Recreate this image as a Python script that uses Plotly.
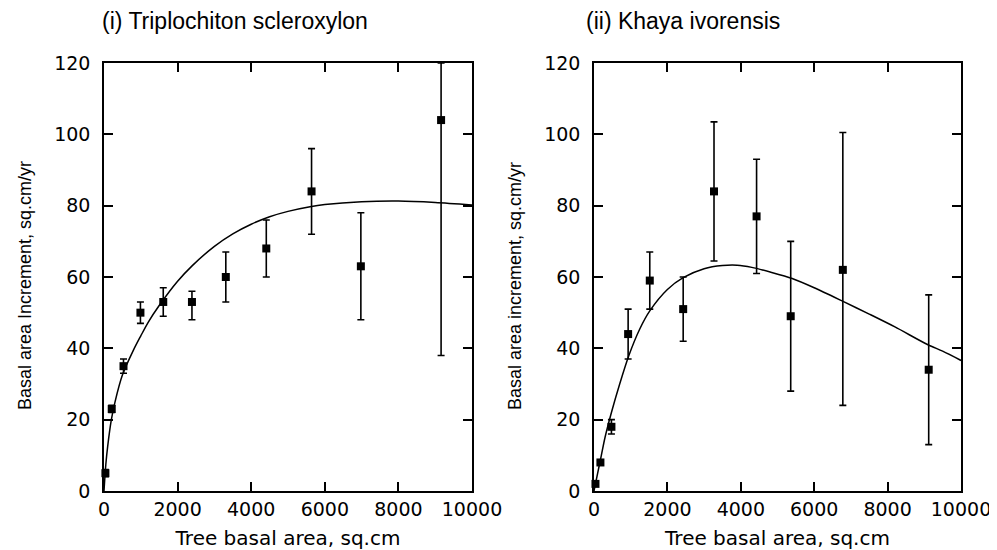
import plotly.graph_objects as go

# ---- Data: (i) Triplochiton scleroxylon ----
tri_x = [38, 210, 530, 990, 1610, 2390, 3310, 4410, 5640, 6980, 9160]
tri_y = [5, 23, 35, 50, 53, 53, 60, 68, 84, 63, 104]
tri_hi = [6, 24, 37, 53, 57, 56, 67, 76, 96, 78, 120]
tri_lo = [4, 22, 33, 47, 49, 48, 53, 60, 72, 48, 38]

tri_fit_x = [0, 50, 100, 200, 300, 500, 800, 1000, 1200, 1500, 2000, 2400, 3000,
             3500, 4000, 4500, 5000, 5600, 6000, 7000, 8000, 9000, 10000]
tri_fit_y = [0, 7.5, 12.5, 20, 25, 32.5, 39.5, 43.5, 47.3, 52, 58.8, 63.2, 68.6,
             72.1, 74.8, 76.9, 78.4, 79.7, 80.3, 81.1, 81.3, 80.9, 80.2]

# ---- Data: (ii) Khaya ivorensis ----
kha_x = [40, 175, 475, 930, 1520, 2430, 3270, 4430, 5360, 6780, 9120]
kha_y = [2, 8, 18, 44, 59, 51, 84, 77, 49, 62, 34]
kha_hi = [2.5, 8.5, 20, 51, 67, 60, 103.5, 93, 70, 100.5, 55]
kha_lo = [1.5, 7.5, 16, 37, 51, 42, 64.5, 61, 28, 24, 13]

kha_fit_x = [0, 100, 200, 300, 475, 700, 950, 1250, 1520, 2000, 2430, 3000, 3500,
             3900, 4300, 4800, 5400, 6000, 6800, 7500, 8200, 9100, 9500, 10000]
kha_fit_y = [0, 5, 10, 15, 22, 30, 38, 45.5, 50.5, 56.5, 59.8, 62.3, 63.2,
             63.3, 62.7, 61.4, 59.6, 57, 53.1, 49.6, 46, 41, 39.2, 36.6]

titles = ["(i) Triplochiton scleroxylon", "(ii) Khaya ivorensis"]
x_title = "Tree basal area, sq.cm"
y_titles = ["Basal area Increment, sq.cm/yr", "Basal area increment, sq.cm/yr"]
x_ticks = [0, 2000, 4000, 6000, 8000, 10000]
y_ticks = [0, 20, 40, 60, 80, 100, 120]

# page body has an 8px margin; figure is sized/placed to compensate
W, H, OFF = 989, 542, 8

fig = go.Figure()

def add_panel(xs, ys, hi, lo, fx, fy, xa, ya):
    fig.add_trace(go.Scatter(
        x=fx, y=fy, mode="lines", line=dict(color="black", width=1.5, shape="spline", smoothing=0.8),
        xaxis=xa, yaxis=ya, showlegend=False, hoverinfo="skip"))
    fig.add_trace(go.Scatter(
        x=xs, y=ys, mode="markers",
        marker=dict(symbol="square", size=8, color="black"),
        error_y=dict(type="data", symmetric=False,
                     array=[h - v for h, v in zip(hi, ys)],
                     arrayminus=[v - l for l, v in zip(lo, ys)],
                     color="black", thickness=1.6, width=3.5),
        xaxis=xa, yaxis=ya, showlegend=False, cliponaxis=False))

add_panel(tri_x, tri_y, tri_hi, tri_lo, tri_fit_x, tri_fit_y, "x", "y")
add_panel(kha_x, kha_y, kha_hi, kha_lo, kha_fit_x, kha_fit_y, "x2", "y2")

tick_font = dict(family="DejaVu Sans", size=19, color="black")
xdoms = [[(104 - OFF) / W, (472 - OFF) / W], [(594 - OFF) / W, (961 - OFF) / W]]
ydom = [(H - (491 - OFF)) / H, (H - (63 - OFF)) / H]

for i in range(2):
    sfx = "" if i == 0 else "2"
    fig.layout["xaxis" + sfx] = dict(
        domain=xdoms[i], range=[0, 10000], anchor="y" + sfx, automargin=False,
        tickvals=x_ticks, ticktext=[str(t) for t in x_ticks],
        ticks="inside", ticklen=9, tickwidth=1.5, tickcolor="black",
        showline=True, linecolor="black", linewidth=1.5, mirror="ticks",
        showgrid=False, zeroline=False, tickfont=tick_font, ticklabelstandoff=0,
        title=dict(text=x_title, font=dict(family="DejaVu Sans", size=20, color="black"), standoff=15))
    fig.layout["yaxis" + sfx] = dict(
        domain=ydom, range=[0, 120], anchor="x" + sfx, automargin=False,
        tickvals=y_ticks, ticktext=[str(t) for t in y_ticks],
        ticks="inside", ticklen=9, tickwidth=1.5, tickcolor="black",
        showline=True, linecolor="black", linewidth=1.5, mirror="ticks",
        showgrid=False, zeroline=False, tickfont=tick_font, ticklabelstandoff=8)

# y-axis titles (placed as rotated annotations to match the reference's offset)
for t, px in zip(y_titles, [25, 515]):
    fig.add_annotation(text=t, x=(px - OFF) / W, y=1 - (286 - OFF) / H, xref="paper", yref="paper",
                       xanchor="center", yanchor="middle", textangle=-90, showarrow=False,
                       font=dict(family="Liberation Sans", size=18, color="black"))

for t, px in zip(titles, [100, 584]):
    fig.add_annotation(text=t, x=(px - OFF) / W, y=1 - (21 - OFF) / H, xref="paper", yref="paper",
                       xanchor="left", yanchor="middle", showarrow=False,
                       font=dict(family="Liberation Sans", size=23, color="black"))

fig.update_layout(width=W, height=H, margin=dict(l=0, r=0, t=0, b=0),
                  paper_bgcolor="white", plot_bgcolor="white")

fig.write_html("out.html")
